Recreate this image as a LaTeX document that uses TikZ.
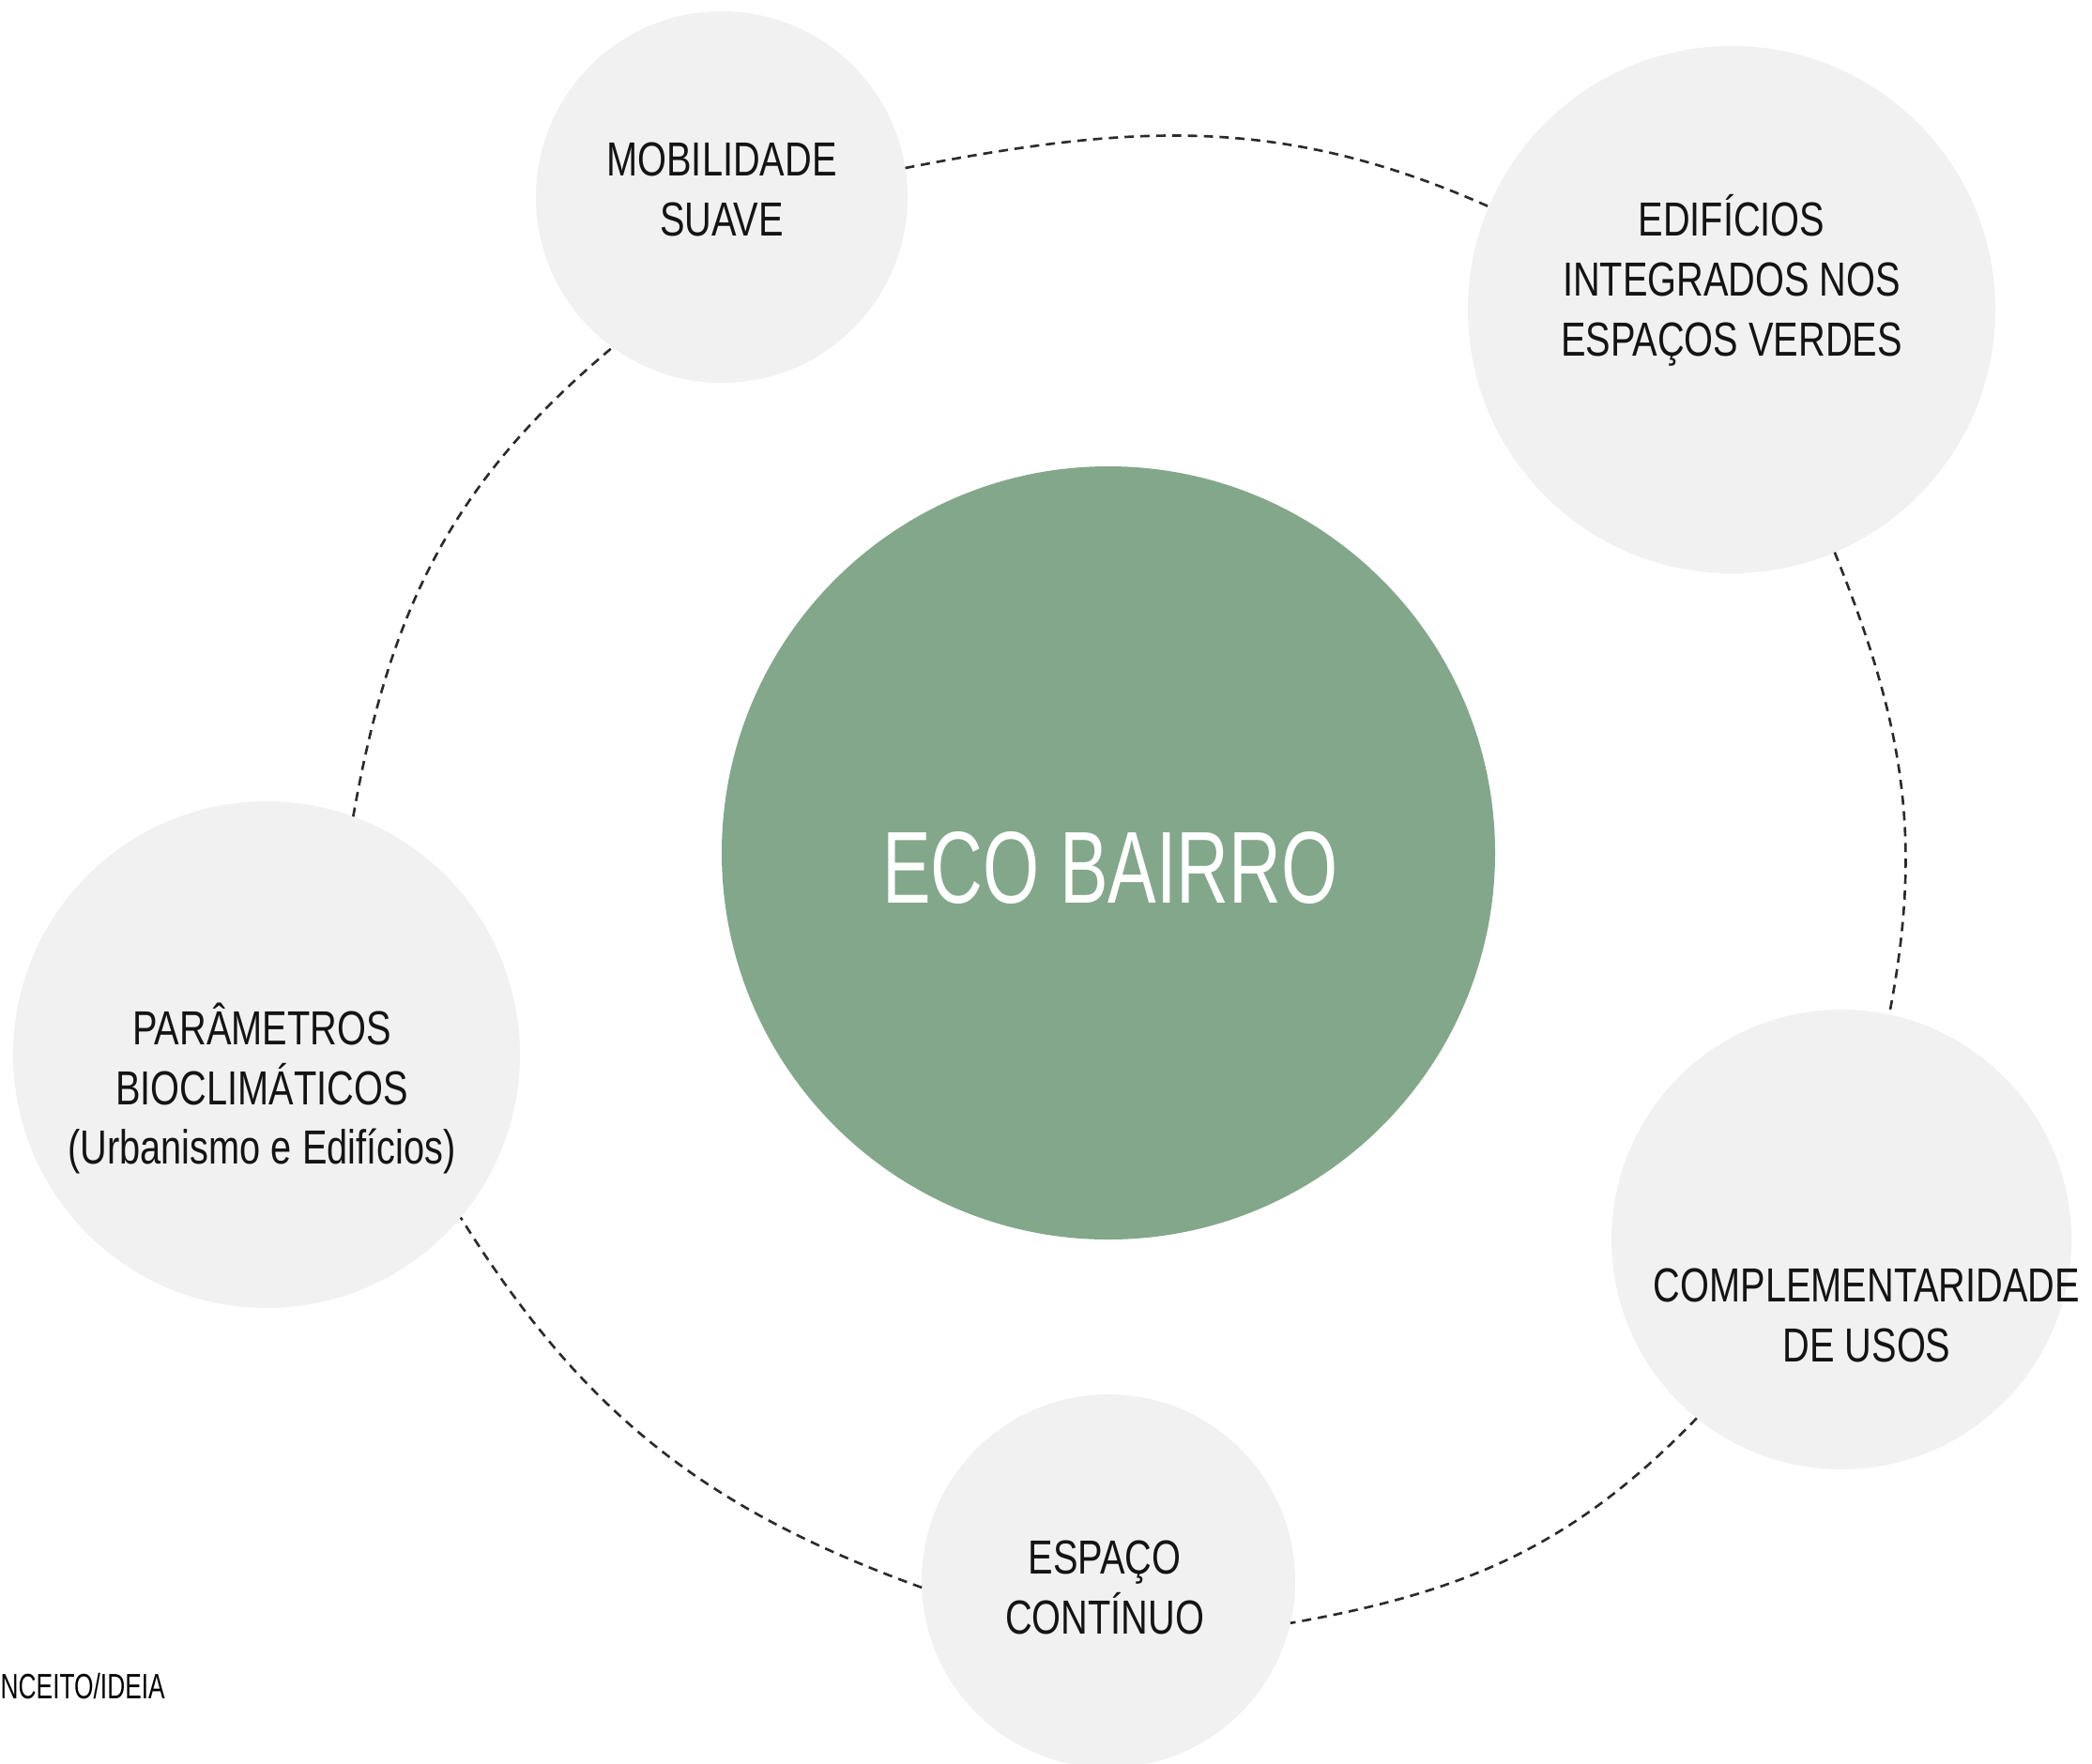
\documentclass[tikz,border=0pt]{standalone}
\usepackage{fontspec}
\setmainfont{Liberation Sans}[FakeStretch=0.78]
\newfontfamily\ecofont{Liberation Sans}[FakeStretch=0.71]
\newfontfamily\tagfont{Liberation Sans}[FakeStretch=0.70]
\usetikzlibrary{positioning}
\definecolor{ecogreen}{HTML}{83A78A}
\definecolor{bubblegray}{HTML}{F1F1F1}
\definecolor{inkgray}{HTML}{2B2B2B}
\tikzset{
    bubble/.style={circle, fill=bubblegray, draw=none, inner sep=0pt, outer sep=0pt, minimum size=#1}, % grey idea circles
    bubbletext/.style={align=center, font=\fontsize{14.5}{18.2}\selectfont, text=black!92}, % text inside the circles
    link/.style={draw=inkgray, line width=0.75pt, dash pattern=on 2.8pt off 2pt}, % dashed ring between circles
}

\begin{document}
\begin{tikzpicture}
    \useasboundingbox (0,0) rectangle (22.29,-18.79);
    \node[bubble=8.24cm, fill=ecogreen] (eco) at (11.81,-9.09) {};
    \node[bubble=3.96cm] (mob) at (7.69,-2.10) {};
    \node[bubble=5.62cm] (edi) at (18.45,-3.30) {};
    \node[bubble=5.40cm] (param) at (2.84,-11.24) {};
    \node[bubble=4.90cm] (compl) at (19.62,-13.21) {};
    \node[bubble=3.98cm] (esp) at (11.81,-16.85) {};

    \node[font=\ecofont\fontsize{31}{36}\selectfont, text=white] (ecotxt) at (11.83,-9.25) {ECO BAIRRO};
    \node[bubbletext] (mobtxt) at (7.69,-2.02) {MOBILIDADE\\SUAVE};
    \node[bubbletext] (editxt) at (18.45,-2.99) {EDIFÍCIOS\\INTEGRADOS NOS\\ESPAÇOS VERDES};
    \node[bubbletext] (paramtxt) at (2.79,-11.60) {PARÂMETROS\\BIOCLIMÁTICOS\\(Urbanismo e Edifícios)};
    \node[bubbletext] (compltxt) at (19.89,-14.02) {COMPLEMENTARIDADE\\DE USOS};
    \node[bubbletext] (esptxt) at (11.77,-16.92) {ESPAÇO\\CONTÍNUO};
    \node[anchor=base west, inner sep=0pt, font=\tagfont\fontsize{10.7}{12}\selectfont] (tag) at (0,-18.10) {NCEITO/IDEIA};

    \draw[link] (mob.9) to[out=11, in=156] (edi.157);
    \draw[link] (edi.-67) to[out=-68, in=79] (compl.78);
    \draw[link] (compl.-129) to[out=-134, in=10] (esp.-13);
    \draw[link] (esp.182) to[out=160, in=-58] (param.-40);
    \draw[link] (param.70) to[out=80, in=220] (mob.234);
\end{tikzpicture}
\end{document}
